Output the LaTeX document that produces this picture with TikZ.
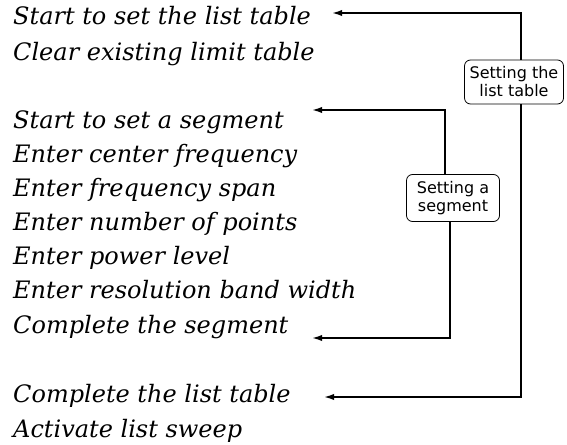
\documentclass[tikz,border=0pt]{standalone}
\usepackage{fontspec}
\newfontfamily\labfont{DejaVu Sans}
\newfontfamily\txtfamily{DejaVu Serif}
\usetikzlibrary{arrows.meta}
\newcommand\txtfont{\txtfamily\itshape\fontsize{24}{28}\selectfont}
\begin{document}
\begin{tikzpicture}[x=1pt,y=-1pt,
  txt/.style={anchor=base west,inner sep=0pt,font=\txtfont},
  lab/.style={draw,line width=0.8pt,rounded corners=6pt,fill=white,align=center,
    font=\labfont\fontsize{16}{18}\selectfont,inner sep=2pt},
  conn/.style={line width=2.5pt,-{Latex[length=12pt,width=6pt]}}]
\useasboundingbox (0,0) rectangle (567,444);
\node[txt] (t1) at (13,25) {Start to set the list table};
\node[txt] (t2) at (13,60) {Clear existing limit table};
\node[txt] (t3) at (13,128) {Start to set a segment};
\node[txt] (t4) at (13,162.2) {Enter center frequency};
\node[txt] (t5) at (13,196.3) {Enter frequency span};
\node[txt] (t6) at (13,230.5) {Enter number of points};
\node[txt] (t7) at (13,264.7) {Enter power level};
\node[txt] (t8) at (13,298.8) {Enter resolution band width};
\node[txt] (t9) at (13,333) {Complete the segment};
\node[txt] (t10) at (13,402) {Complete the list table};
\node[txt] (t11) at (13,437) {Activate list sweep};
\node[lab,minimum width=99pt,minimum height=44pt] (lb) at (514,82) {Setting the\\list table};
\node[lab,minimum width=93pt,minimum height=47pt] (sb) at (453,198) {Setting a\\segment};
\coordinate (a1) at (330,13);
\coordinate (a2) at (310,110);
\coordinate (a3) at (310,338);
\coordinate (a4) at (322,397);
\draw[conn] ([xshift=7pt]lb.north) |- (a1);
\draw[conn] ([xshift=7pt]lb.south) |- (a4);
\draw[conn] ([xshift=-8pt]sb.north) |- (a2);
\draw[conn] ([xshift=-3pt]sb.south) |- (a3);
\end{tikzpicture}
\end{document}
